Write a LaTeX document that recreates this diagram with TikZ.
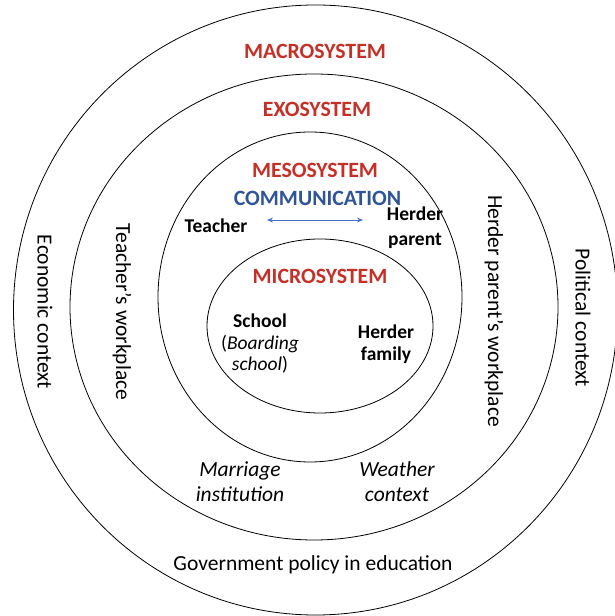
\documentclass[tikz,border=0pt]{standalone}
\usepackage{fontspec}
\setmainfont{Carlito}
\usetikzlibrary{arrows.meta}
\definecolor{sysred}{RGB}{196,48,40}
\definecolor{sysblue}{RGB}{47,85,151}
\definecolor{arrowblue}{RGB}{68,114,196}
\begin{document}
\begin{tikzpicture}[x=1pt,y=1pt,
ring/.style = {draw=black, line width=0.8pt},
sys-label/.style = {text=sysred, font=\bfseries\fontsize{21.8}{24}\selectfont},
actor/.style = {align=center, font=\bfseries\fontsize{19.5}{25}\selectfont},
context/.style = {align=center, font=\itshape\fontsize{21.5}{25}\selectfont},
side/.style = {rotate=-90, font=\fontsize{21.5}{24}\selectfont}
]
\clip (0,0) rectangle (615,616);
\draw[ring] (315.5,306) ellipse [x radius=302, y radius=305];
\draw[ring] (314,309) ellipse [x radius=244, y radius=233];
\draw[ring] (310,319) ellipse [x radius=152, y radius=165];
\draw[ring] (320,290) ellipse [x radius=113, y radius=87];
% system names
\node[sys-label] (macro) at (315,565) {MACROSYSTEM};
\node[sys-label] (exo) at (317,507) {EXOSYSTEM};
\node[sys-label] (meso) at (315,446) {MESOSYSTEM};
\node[sys-label, text=sysblue] (comm) at (317.5,418) {COMMUNICATION};
\node[sys-label] (micro) at (320,340) {MICROSYSTEM};
% people and places
\node[actor] (teacher) at (216,390) {Teacher};
\node[actor] (parent) at (415,388) {Herder\\parent};
\coordinate (comm-l) at (267,396);
\coordinate (comm-r) at (363,396);
\draw[arrowblue, line width=0.9pt, {Stealth[length=6pt,width=5pt]}-{Stealth[length=6pt,width=5pt]}] (comm-l) -- (comm-r);
\node[actor, font=\fontsize{19.5}{21.5}\selectfont] (school) at (260,272)
    {\textbf{School}\\(\textit{Boarding}\\\textit{school})};
\node[actor, font=\bfseries\fontsize{19.5}{22.5}\selectfont] (family) at (386,272) {Herder\\family};
\node[context] (marriage) at (240,134) {Marriage\\institution};
\node[context] (weather) at (397,134) {Weather\\context};
\node[font=\fontsize{21.5}{24}\selectfont] (policy) at (313,51) {Government policy in education};
% sideways labels
\node[side] (economic) at (45,304) {Economic context};
\node[side] (teacher-work) at (122,304) {Teacher’s workplace};
\node[side] (parent-work) at (494,305) {Herder parent’s workplace};
\node[side] (political) at (583,298) {Political context};
\end{tikzpicture}
\end{document}
